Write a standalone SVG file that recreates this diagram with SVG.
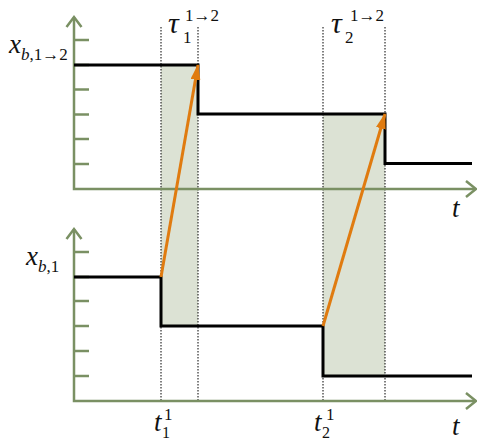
<svg xmlns="http://www.w3.org/2000/svg" width="477" height="440" viewBox="0 0 477 440">
<style>
.axis{stroke:#7A9063;stroke-width:2.5;fill:none}
.tick{stroke:#7A9063;stroke-width:2.5}
.sig{stroke:#000;stroke-width:3;fill:none;stroke-linejoin:miter}
.dot{stroke:#000;stroke-width:1;stroke-dasharray:1.5,1.5}
.shade{fill:#DCE2D4}
.arr{stroke:#E07B10;stroke-width:3;fill:none}
.lbl text{font-family:'Times New Roman','Liberation Serif','DejaVu Serif',serif}
.it{font-style:italic}
</style>
<defs>
<marker id="oh" viewBox="0 0 16 10" refX="15" refY="5" markerWidth="16" markerHeight="10" markerUnits="userSpaceOnUse" orient="auto">
<path d="M0,0 L16,5 L0,10 z" fill="#E07B10"/>
</marker>
</defs>
<g id="shading">
<rect class="shade" x="161" y="65" width="37" height="261"/>
<rect class="shade" x="323" y="114" width="62" height="262"/>
</g>
<g id="guides">
<line class="dot" x1="161" y1="27" x2="161" y2="401"/>
<line class="dot" x1="198" y1="27" x2="198" y2="401"/>
<line class="dot" x1="323" y1="27" x2="323" y2="401"/>
<line class="dot" x1="385" y1="27" x2="385" y2="401"/>
</g>
<g id="top-axes">
<path class="axis" d="M74,17 V189 H475"/>
<path class="axis" d="M66.5,27 L74,17 L81.5,27"/>
<path class="axis" d="M466,181 L476,189 L466,197"/>
<line class="tick" x1="74" y1="40" x2="89" y2="40"/>
<line class="tick" x1="74" y1="65" x2="89" y2="65"/>
<line class="tick" x1="74" y1="89.5" x2="89" y2="89.5"/>
<line class="tick" x1="74" y1="114.5" x2="89" y2="114.5"/>
<line class="tick" x1="74" y1="139" x2="89" y2="139"/>
<line class="tick" x1="74" y1="164" x2="89" y2="164"/>
</g>
<g id="bottom-axes">
<path class="axis" d="M74,229 V401 H475"/>
<path class="axis" d="M66.5,239 L74,229 L81.5,239"/>
<path class="axis" d="M466,393 L476,401 L466,409"/>
<line class="tick" x1="74" y1="252" x2="89" y2="252"/>
<line class="tick" x1="74" y1="277" x2="89" y2="277"/>
<line class="tick" x1="74" y1="301" x2="89" y2="301"/>
<line class="tick" x1="74" y1="326" x2="89" y2="326"/>
<line class="tick" x1="74" y1="351" x2="89" y2="351"/>
<line class="tick" x1="74" y1="376" x2="89" y2="376"/>
</g>
<g id="top-signal">
<path class="sig" d="M74,65 H198 V114 H385 V163.5 H472"/>
</g>
<g id="bottom-signal">
<path class="sig" d="M74,277 H161 V326 H323 V376 H472"/>
</g>
<g id="connectors">
<line class="arr" x1="161" y1="277" x2="198" y2="65" marker-end="url(#oh)"/>
<line class="arr" x1="323" y1="326" x2="385" y2="114" marker-end="url(#oh)"/>
</g>
<g id="labels" class="lbl" fill="#111">
<text x="9" y="53" font-size="27"><tspan class="it">x</tspan><tspan font-size="17" dy="7"><tspan class="it">b</tspan>,1→2</tspan></text>
<text x="26" y="265" font-size="27"><tspan class="it">x</tspan><tspan font-size="17" dy="7"><tspan class="it">b</tspan>,1</tspan></text>
<text x="168" y="33" font-size="30" class="it">τ</text>
<text x="183" y="43" font-size="17">1</text>
<text x="185" y="21" font-size="17">1→2</text>
<text x="331" y="33" font-size="30" class="it">τ</text>
<text x="345" y="43" font-size="17">2</text>
<text x="350" y="21" font-size="17">1→2</text>
<text x="154" y="431" font-size="27" class="it">t</text>
<text x="164" y="420" font-size="17">1</text>
<text x="162" y="438" font-size="16">1</text>
<text x="314" y="431" font-size="27" class="it">t</text>
<text x="326" y="420" font-size="17">1</text>
<text x="322" y="438" font-size="16">2</text>
<text x="452" y="217" font-size="27" class="it">t</text>
<text x="452" y="435" font-size="27" class="it">t</text>
</g>
</svg>
